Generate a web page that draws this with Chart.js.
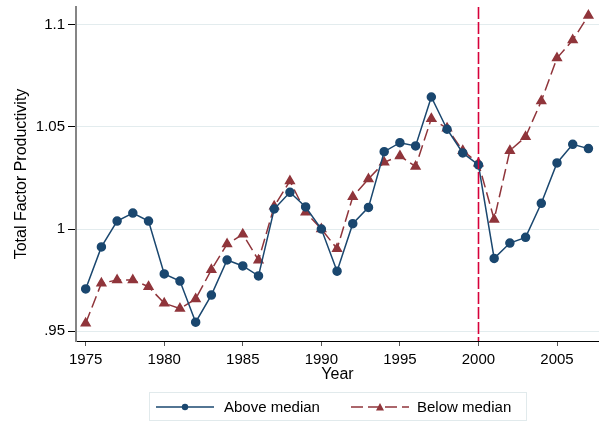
<!DOCTYPE html>
<html>
<head>
<meta charset="utf-8">
<script src="https://cdn.jsdelivr.net/npm/chart.js@4"></script>
<style>
  body { margin: 0; background: #fff; }
  #wrap { position: relative; width: 599px; height: 421px; font-family: "Liberation Sans", Arial, sans-serif; }
  #legend {
    position: absolute; left: 149px; top: 392px; width: 376px; height: 27px;
    border: 1px solid #e1eaec; font-size: 15px; color: #000; white-space: nowrap;
  }
  #legend svg, #legend span { position: absolute; }
  #legend svg { top: 8px; }
  #legend span { top: 5px; }
</style>
</head>
<body>
<div id="wrap">
  <canvas id="tfpChart" width="599" height="421"></canvas>
  <div id="legend">
    <svg style="left:6px" width="58" height="12"><line x1="0" y1="6" x2="58" y2="6" stroke="#1a476f" stroke-width="1.5"/><circle cx="29" cy="6" r="3.2" fill="#1a476f"/></svg>
    <span style="left:74px">Above median</span>
    <svg style="left:201px" width="58" height="12"><line x1="0" y1="6" x2="58" y2="6" stroke="#90353b" stroke-width="1.5" stroke-dasharray="12,5"/><polygon points="29,2 33,9.5 25,9.5" fill="#90353b"/></svg>
    <span style="left:267px">Below median</span>
  </div>
</div>
<script>
const years = [1975, 1976, 1977, 1978, 1979, 1980, 1981, 1982, 1983, 1984, 1985, 1986, 1987, 1988, 1989, 1990, 1991,
  1992, 1993, 1994, 1995, 1996, 1997, 1998, 1999, 2000, 2001, 2002, 2003, 2004, 2005, 2006, 2007];
const aboveMedian = [0.9706, 0.9912, 1.0039, 1.0078, 1.0039, 0.978, 0.9745, 0.9543, 0.9676, 0.9848, 0.9819, 0.977, 1.0098, 1.018, 1.0108, 1.0, 0.9793,
  1.0026, 1.0106, 1.0379, 1.0423, 1.0407, 1.0647, 1.0489, 1.0373, 1.0314, 0.9856, 0.9931, 0.9959, 1.0126, 1.0324, 1.0415, 1.0394];
const belowMedian = [0.9538, 0.9734, 0.975, 0.975, 0.9717, 0.9636, 0.961, 0.9657, 0.98, 0.9926, 0.9974, 0.9847, 1.0111, 1.0235, 1.0082, 1.0, 0.9903,
  1.0158, 1.0245, 1.0327, 1.0358, 1.0306, 1.0541, 1.0494, 1.0384, 1.0322, 1.0047, 1.0384, 1.0452, 1.0627, 1.0838, 1.0926, 1.1046];
const xTicks = [1975, 1980, 1985, 1990, 1995, 2000, 2005];
const yTicks = [0.95, 1, 1.05, 1.1];
const yTickLabels = ['.95', '1', '1.05', '1.1'];
const cutoffYear = 2000;

const blue = '#1a476f';
const red = '#90353b';

// linea vertical en el año de corte
const cutoffLine = {
  id: 'cutoffLine',
  afterDatasetsDraw(chart) {
    const { ctx, chartArea, scales } = chart;
    const x = Math.round(scales.x.getPixelForValue(cutoffYear)) + 0.5;
    ctx.save();
    ctx.strokeStyle = '#d7003a';
    ctx.lineWidth = 1.6;
    ctx.setLineDash([12, 3]);
    ctx.beginPath();
    ctx.moveTo(x, chartArea.top);
    ctx.lineTo(x, chartArea.bottom);
    ctx.stroke();
    ctx.restore();
  }
};

Chart.defaults.font.family = '"Liberation Sans", Arial, sans-serif';
Chart.defaults.font.size = 15;
Chart.defaults.color = '#000';

const ctx = document.getElementById('tfpChart').getContext('2d');
new Chart(ctx, {
  type: 'line',
  data: {
    datasets: [
      {
        label: 'Above median',
        data: years.map((y, i) => ({ x: y, y: aboveMedian[i] })),
        borderColor: blue,
        backgroundColor: blue,
        borderWidth: 1.5,
        pointRadius: 4,
        pointStyle: 'circle',
        tension: 0
      },
      {
        label: 'Below median',
        data: years.map((y, i) => ({ x: y, y: belowMedian[i] })),
        borderColor: red,
        backgroundColor: red,
        borderWidth: 1.5,
        borderDash: [12, 5],
        pointRadius: 5,
        pointStyle: 'triangle',
        tension: 0
      }
    ]
  },
  options: {
    responsive: false,
    animation: false,
    layout: { autoPadding: false, padding: { top: 7, left: 12, right: 0, bottom: 37 } },
    plugins: { legend: { display: false }, tooltip: { enabled: false } },
    scales: {
      x: {
        type: 'linear',
        min: 1974.383,
        max: 2007.673,
        afterBuildTicks: s => { s.ticks = xTicks.map(v => ({ value: v })); },
        afterFit: s => { s.height = 43; s.paddingLeft = 0; s.paddingRight = 0; },
        ticks: { padding: 5, maxRotation: 0, callback: v => String(v) },
        grid: { drawOnChartArea: false, tickLength: 5, tickColor: '#555' },
        border: { color: '#000', width: 1 },
        title: { display: true, text: 'Year', padding: 0, font: { size: 16 } }
      },
      y: {
        min: 0.9451,
        max: 1.10882,
        afterBuildTicks: s => { s.ticks = yTicks.map(v => ({ value: v })); },
        afterFit: s => { s.width = 64; s.paddingTop = 0; s.paddingBottom = 0; },
        ticks: { padding: 3, callback: v => yTickLabels[yTicks.indexOf(v)] },
        grid: { color: '#e3ecee', tickLength: 8, tickColor: '#000' },
        border: { color: '#858585', width: 2 },
        title: { display: true, text: 'Total Factor Productivity', padding: 0, font: { size: 16 } }
      }
    }
  },
  plugins: [cutoffLine]
});
</script>
</body>
</html>
